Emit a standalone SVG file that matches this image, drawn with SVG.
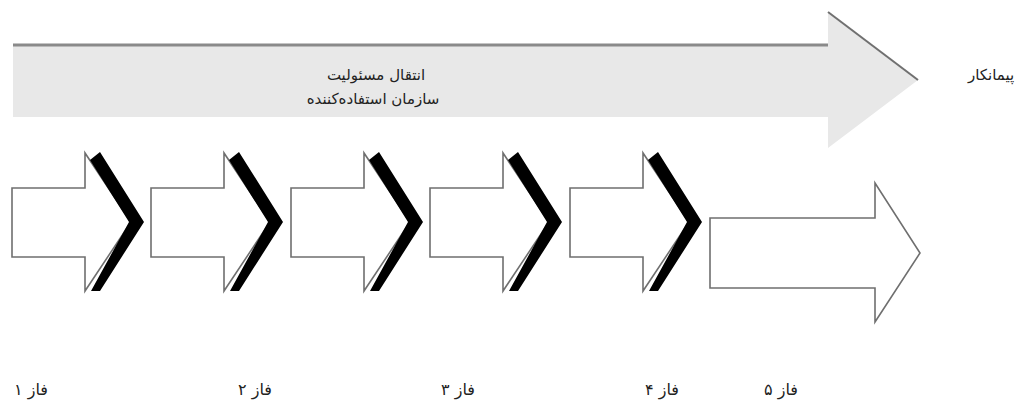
<svg xmlns="http://www.w3.org/2000/svg" width="1027" height="405" viewBox="0 0 1027 405">
<style>
.lbl{font-family:"DejaVu Sans","Noto Sans",sans-serif;font-size:15px;fill:#222;text-anchor:middle}
.ph{font-size:16px}
.phase{fill:#fff;stroke:#6f6f6f;stroke-width:1.6}
.chev{fill:#000}
</style>
<defs>
<g id="step">
<path class="phase" d="M0,188 H73 V153 L119,222 L73,291 V257 H0 Z"/>
<polygon class="chev" points="88,152 132,222 88,291 79,291 117,222 78,160"/>
</g>
</defs>
<g id="band">
<polygon points="13,45 828,45 828,12 918,80 828,148 828,117 13,117" fill="#e8e8e8"/>
<line x1="13" y1="45" x2="828" y2="45" stroke="#8a8a8a" stroke-width="3"/>
<line x1="828" y1="12" x2="918" y2="80" stroke="#707070" stroke-width="2"/>
<text class="lbl" x="376" y="80">انتقال مسئولیت</text>
<text class="lbl" x="373" y="104">سازمان استفاده‌کننده</text>
</g>
<text id="contractor" class="lbl" x="991" y="80" font-size="17">پیمانکار</text>
<g id="phase1"><use href="#step" x="12"/></g>
<g id="phase2"><use href="#step" x="151"/></g>
<g id="phase3"><use href="#step" x="291"/></g>
<g id="phase4"><use href="#step" x="430"/></g>
<g id="phase5"><use href="#step" x="570"/></g>
<g id="final"><path class="phase" d="M710,218 H875 V183 L920,253 L875,322 V288 H710 Z"/></g>
<g id="labels">
<text class="lbl ph" x="31" y="395">فاز ۱</text>
<text class="lbl ph" x="255" y="395">فاز ۲</text>
<text class="lbl ph" x="458" y="395">فاز ۳</text>
<text class="lbl ph" x="662" y="395">فاز ۴</text>
<text class="lbl ph" x="781" y="395">فاز ۵</text>
</g>
<g id="connectors"></g>
</svg>
